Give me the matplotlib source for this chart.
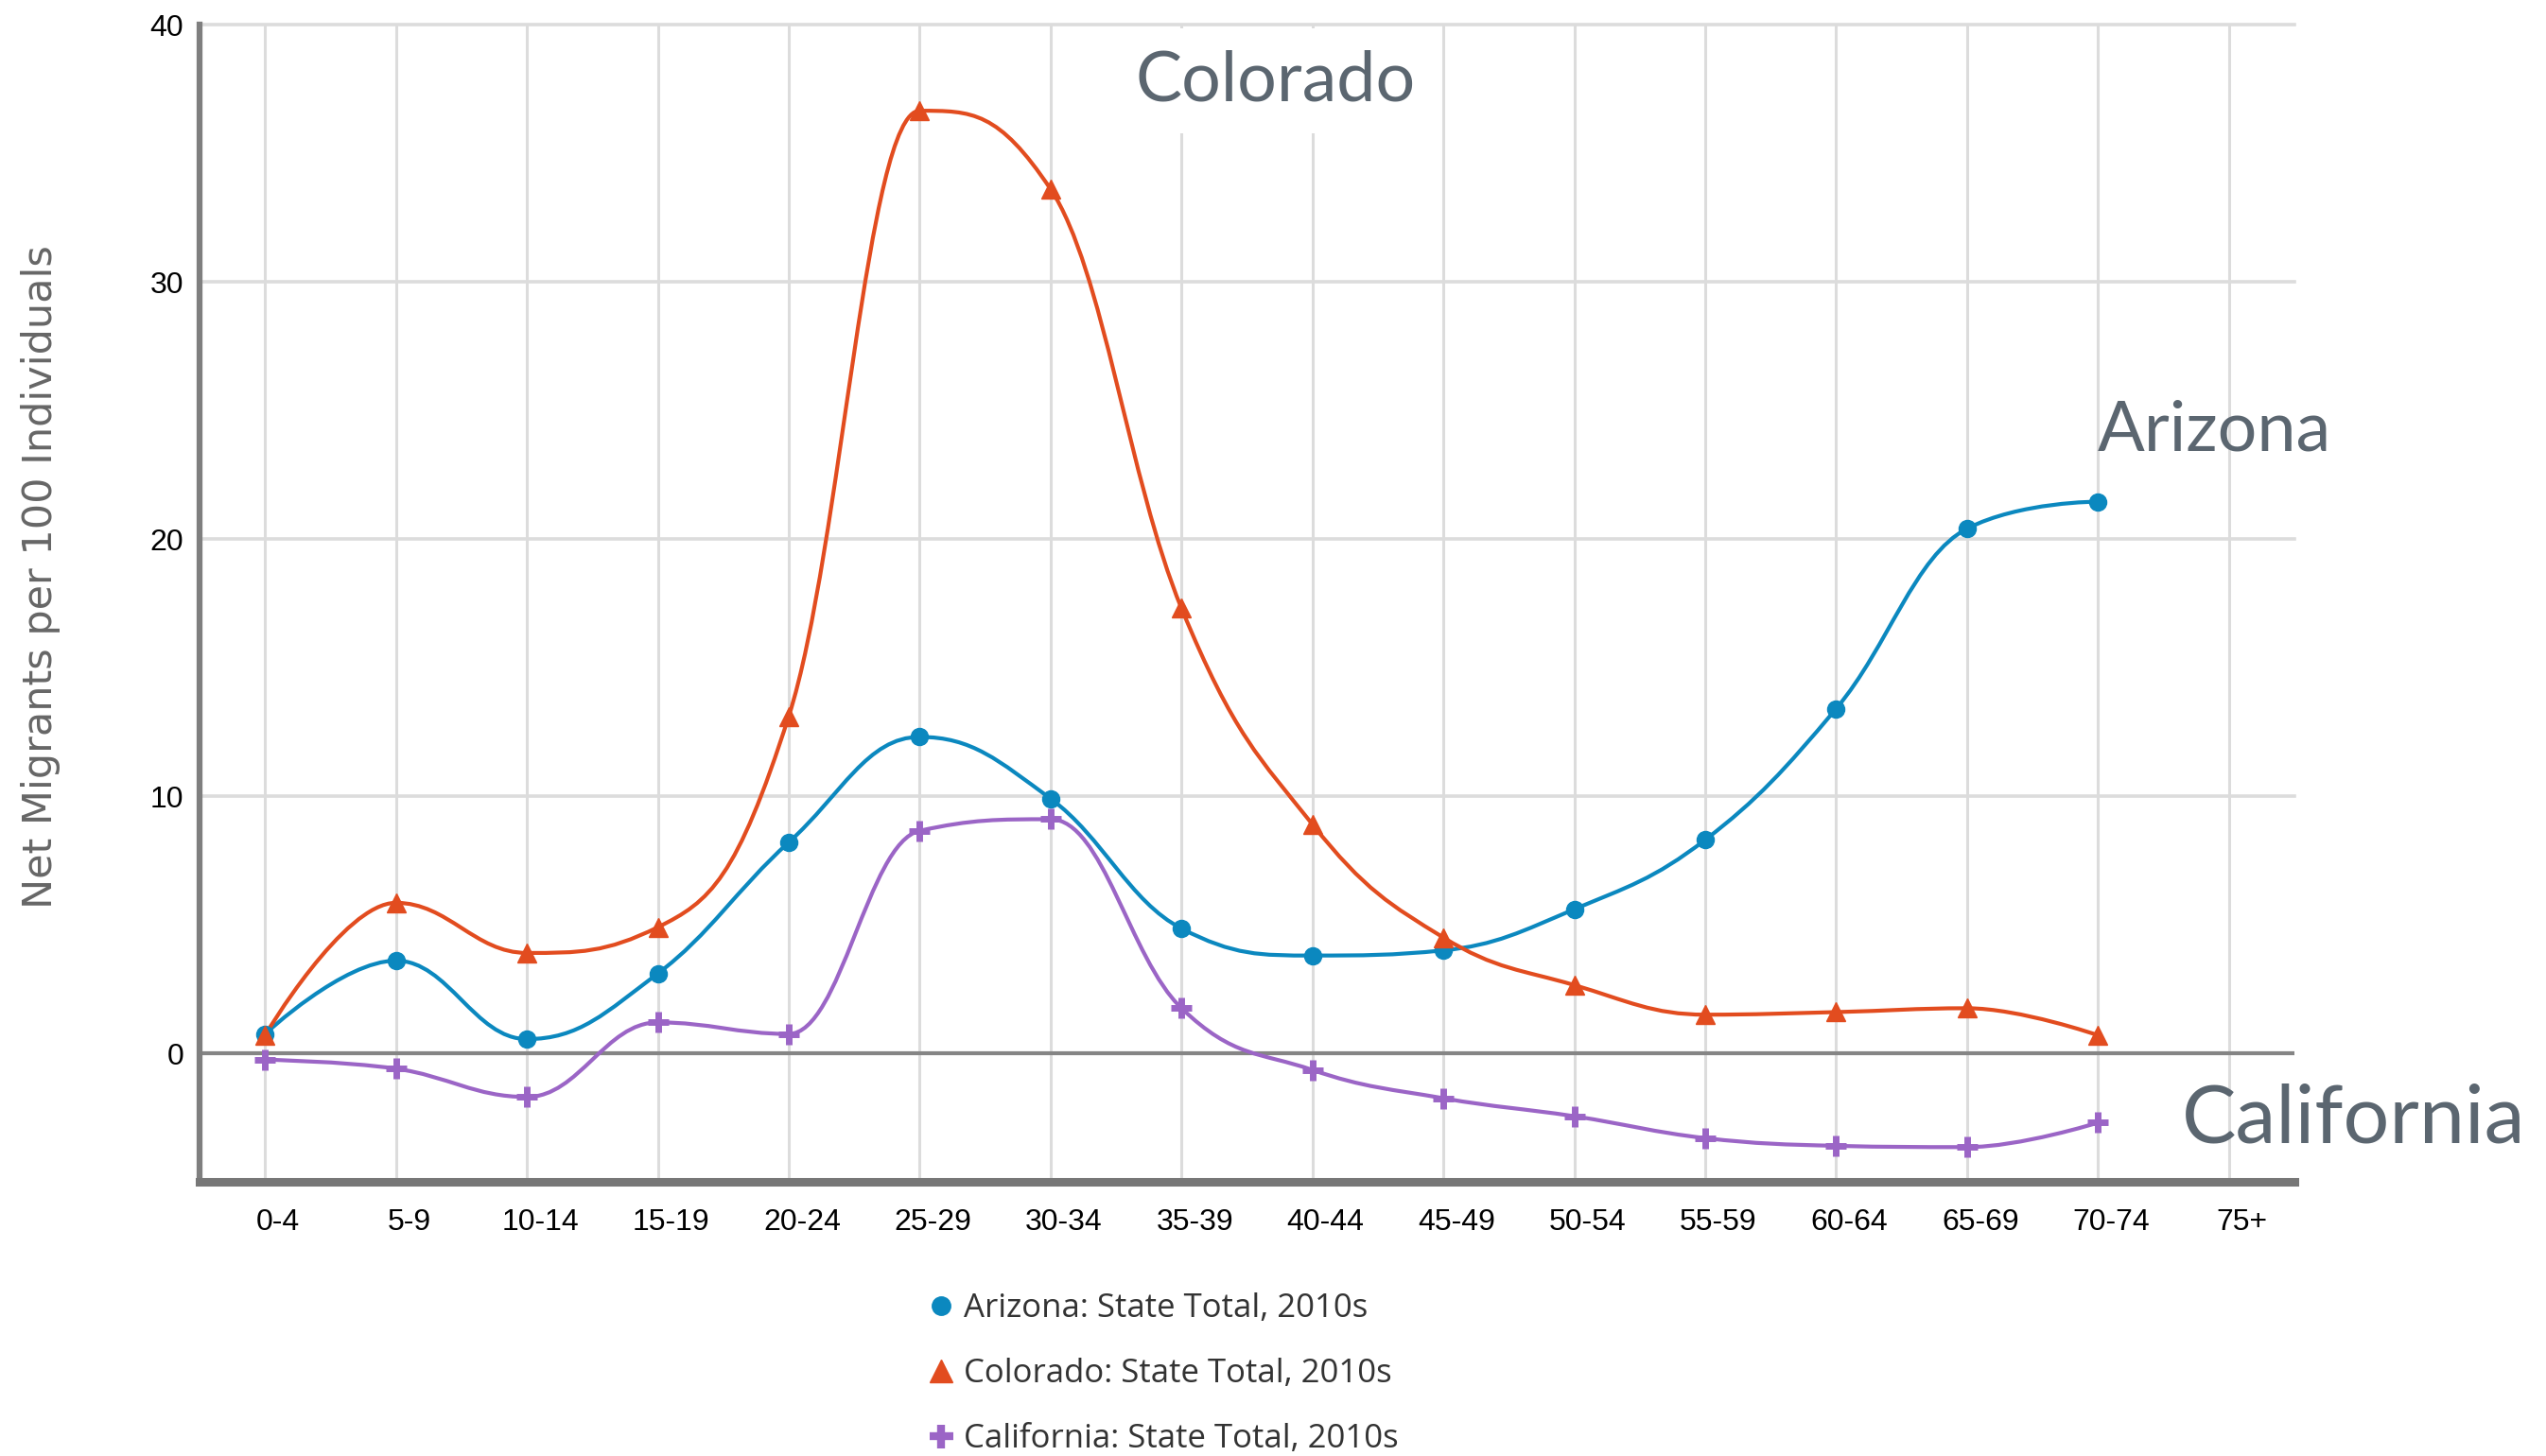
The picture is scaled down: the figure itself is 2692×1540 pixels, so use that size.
import numpy as np
import matplotlib
matplotlib.use("Agg")
import matplotlib.pyplot as plt
from matplotlib.path import Path
from matplotlib.patches import PathPatch
from matplotlib.lines import Line2D
import matplotlib.transforms as mtransforms

# ---------------- data ----------------
age_groups = ["0-4", "5-9", "10-14", "15-19", "20-24", "25-29", "30-34", "35-39",
              "40-44", "45-49", "50-54", "55-59", "60-64", "65-69", "70-74", "75+"]
arizona = [0.75, 3.6, 0.55, 3.1, 8.2, 12.3, 9.9, 4.85, 3.8, 4.0, 5.6, 8.3, 13.4, 20.4, 21.45]
colorado = [0.7, 5.85, 3.9, 4.9, 13.1, 36.65, 33.6, 17.3, 8.9, 4.5, 2.65, 1.5, 1.6, 1.75, 0.7]
california = [-0.25, -0.6, -1.7, 1.2, 0.75, 8.65, 9.1, 1.75, -0.65, -1.75, -2.45, -3.3, -3.6, -3.65, -2.7]
y_ticks = [0, 10, 20, 30, 40]
legend_labels = ["Arizona: State Total, 2010s", "Colorado: State Total, 2010s",
                 "California: State Total, 2010s"]
y_label = "Net Migrants per 100 Individuals"

C_AZ = "#0b88bf"
C_CO = "#e24c1f"
C_CA = "#9b65c6"
ANN = "#5b6670"


def hc_spline_path(xs, ys, smoothing=1.5):
    """Highcharts-style spline through the points as a Bezier path."""
    n = len(xs)
    denom = smoothing + 1
    lc = [(x, y) for x, y in zip(xs, ys)]
    rc = [(x, y) for x, y in zip(xs, ys)]
    for i in range(1, n - 1):
        x, y = xs[i], ys[i]
        lx, ly = xs[i - 1], ys[i - 1]
        nx, ny = xs[i + 1], ys[i + 1]
        lcx = (smoothing * x + lx) / denom
        lcy = (smoothing * y + ly) / denom
        rcx = (smoothing * x + nx) / denom
        rcy = (smoothing * y + ny) / denom
        if rcx != lcx:
            corr = ((rcy - lcy) * (rcx - x)) / (rcx - lcx) + y - rcy
            lcy += corr
            rcy += corr
        if lcy > ly and lcy > y:
            lcy = max(ly, y)
            rcy = 2 * y - lcy
        elif lcy < ly and lcy < y:
            lcy = min(ly, y)
            rcy = 2 * y - lcy
        if rcy > ny and rcy > y:
            rcy = max(ny, y)
            lcy = 2 * y - rcy
        elif rcy < ny and rcy < y:
            rcy = min(ny, y)
            lcy = 2 * y - rcy
        lc[i] = (lcx, lcy)
        rc[i] = (rcx, rcy)
    verts = [(xs[0], ys[0])]
    codes = [Path.MOVETO]
    for i in range(1, n):
        verts += [rc[i - 1], lc[i], (xs[i], ys[i])]
        codes += [Path.CURVE4] * 3
    return Path(verts, codes)


W, H = 2692, 1540
fig = plt.figure(figsize=(W / 100, H / 100), dpi=100)
ax = fig.add_axes([211 / W, 1 - 1250 / H, (2426 - 211) / W, (1250 - 26) / H])

ax.set_xlim(-0.5, len(age_groups) - 0.5)
ax.set_ylim(-5, 40)

# grid
for i in range(len(age_groups)):
    ax.axvline(i, color="#dcdcdc", lw=2.2, zorder=0)
for t in y_ticks:
    if t != 0:
        ax.axhline(t, color="#dcdcdc", lw=2.6, zorder=0, clip_on=False)
ax.axhline(0, color="#858585", lw=3.0, zorder=1)

# spines
for s in ["top", "right"]:
    ax.spines[s].set_visible(False)
ax.spines["left"].set_color("#7f7f7f")
ax.spines["left"].set_linewidth(4.5)
ax.spines["bottom"].set_color("#777777")
ax.spines["bottom"].set_linewidth(6.5)

# series
series = [
    (arizona, C_AZ, "o", 13),
    (colorado, C_CO, "^", 14),
    (california, C_CA, "+", 16),
]
for vals, col, mk, ms in series:
    xs = list(range(len(vals)))
    p = hc_spline_path(xs, vals)
    ax.add_patch(PathPatch(p, fill=False, edgecolor=col, lw=3.0, zorder=3,
                           capstyle="round", joinstyle="round"))
for vals, col, mk, ms in series:
    xs = list(range(len(vals)))
    if mk == "+":
        ax.plot(xs, vals, ls="none", marker="+", ms=ms, mew=5, color=col, zorder=4)
    else:
        ax.plot(xs, vals, ls="none", marker=mk, ms=ms, color=col, mec=col, zorder=4)

# ticks
ax.set_xticks(range(len(age_groups)))
ax.set_xticklabels(age_groups, fontsize=23, family=["Liberation Sans", "DejaVu Sans"], color="black")
ax.set_yticks(y_ticks)
ax.set_yticklabels([str(t) for t in y_ticks], fontsize=23,
                   family=["Liberation Sans", "DejaVu Sans"], color="black")
ax.tick_params(axis="x", length=0, pad=20)
ax.tick_params(axis="y", length=0, pad=12)
off = mtransforms.ScaledTranslation(14 / 100, 0, fig.dpi_scale_trans)
for lab in ax.get_xticklabels():
    lab.set_transform(lab.get_transform() + off)

# y label
fig.text(43 / W, 1 - 610 / H, y_label, rotation=90, ha="center", va="center",
         fontsize=31, color="#666666", family=["DejaVu Sans"])

# annotations
ax.text(7.72, 37.8, "Colorado", fontsize=53, color=ANN, family=["Lato", "DejaVu Sans"],
        ha="center", va="center", zorder=2,
        bbox=dict(facecolor="white", edgecolor="none", boxstyle="square,pad=0.3"))
ax.text(14.89, 24.2, "Arizona", fontsize=53, color=ANN, family=["Lato", "DejaVu Sans"],
        ha="center", va="center", zorder=2)
ax.text(15.95, -2.6, "California", fontsize=62, color=ANN, family=["Lato", "DejaVu Sans"],
        ha="center", va="center", zorder=2, clip_on=False)

# legend
handles = [
    Line2D([], [], ls="none", marker="o", ms=14, color=C_AZ),
    Line2D([], [], ls="none", marker="^", ms=17, color=C_CO),
    Line2D([], [], ls="none", marker="+", ms=18, mew=6, color=C_CA),
]
leg = fig.legend(handles, legend_labels, loc="upper center",
                 bbox_to_anchor=(1228 / W, 1 - 1350 / H), frameon=False,
                 prop={"family": ["Open Sans", "DejaVu Sans"], "size": 25},
                 labelspacing=1.0, handletextpad=0.2, handlelength=1.0,
                 borderpad=0, labelcolor="#333333")

fig.savefig("out.png", dpi=100)
